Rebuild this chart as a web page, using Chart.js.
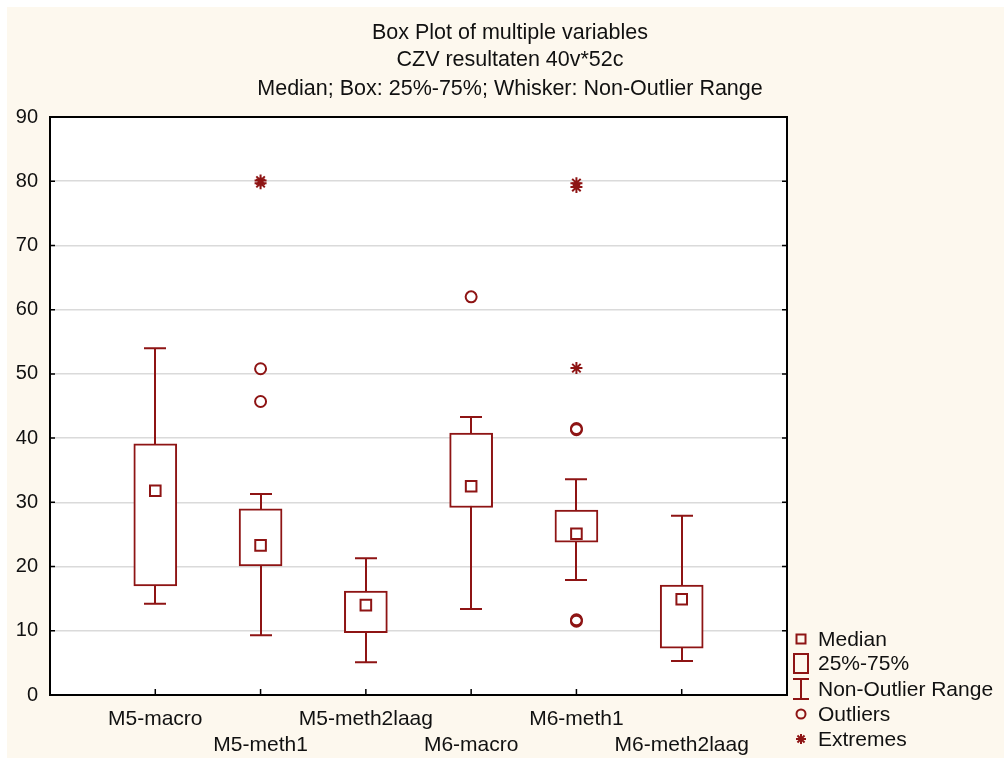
<!DOCTYPE html>
<html>
<head>
<meta charset="utf-8">
<script src="https://cdn.jsdelivr.net/npm/chart.js@4.4.1/dist/chart.umd.min.js"></script>
<style>
html,body{margin:0;padding:0;background:#ffffff;}
#wrap{position:absolute;left:0;top:0;width:1004px;height:758px;}
</style>
</head>
<body>
<div id="wrap"><canvas id="c" width="1004" height="758"></canvas></div>
<script>
const categories = ['M5-macro','M5-meth1','M5-meth2laag','M6-macro','M6-meth1','M6-meth2laag'];
const medians    = [31.8, 23.3, 14.0, 32.5, 25.1, 14.9];
const q1         = [17.0, 20.1, 9.7, 29.2, 23.8, 7.3];
const q3         = [39.1, 29.0, 16.2, 40.8, 28.8, 17.1];
const whiskerLow = [14.2, 9.3, 5.1, 13.4, 17.9, 5.3];
const whiskerHigh= [54.0, 31.3, 21.3, 43.3, 33.6, 27.9];
const outlierCats = ['M5-meth1','M5-meth1','M6-macro','M6-meth1','M6-meth1','M6-meth1','M6-meth1'];
const outlierVals = [50.8, 45.7, 62.0, 41.5, 41.3, 11.7, 11.5];
const extremeCats = ['M5-meth1','M5-meth1','M6-meth1','M6-meth1','M6-meth1'];
const extremeVals = [80.1, 79.7, 79.7, 79.1, 50.9];
const yTicks = [0,10,20,30,40,50,60,70,80,90];
const titleLines = ['Box Plot of multiple variables','CZV resultaten 40v*52c','Median; Box: 25%-75%; Whisker: Non-Outlier Range'];
const legendLabels = ['Median','25%-75%','Non-Outlier Range','Outliers','Extremes'];

// axis labels padded with an empty slot at each end (the plot leaves one category width free on both sides)
const axisLabels = [' ', ...categories, '  '];

const RED = '#8e1414';
const FONT = '"Liberation Sans", Arial, sans-serif';

const bgPlugin = {
  id: 'bg',
  beforeDraw(chart) {
    const ctx = chart.ctx, a = chart.chartArea;
    ctx.save();
    ctx.fillStyle = '#ffffff';
    ctx.fillRect(0, 0, chart.width, chart.height);
    ctx.fillStyle = '#fdf8ee';
    ctx.fillRect(7, 7, chart.width - 7, chart.height - 7);
    ctx.fillStyle = '#ffffff';
    ctx.fillRect(a.left, a.top, a.right - a.left, a.bottom - a.top);
    ctx.restore();
  }
};

const whiskerPlugin = {
  id: 'whiskers',
  beforeDatasetsDraw(chart) {
    const ctx = chart.ctx, xs = chart.scales.x, ys = chart.scales.y;
    ctx.save();
    ctx.strokeStyle = RED;
    ctx.lineWidth = 2;
    categories.forEach((c, i) => {
      const x = Math.round(xs.getPixelForValue(axisLabels.indexOf(c)));
      const yl = ys.getPixelForValue(whiskerLow[i]);
      const yh = ys.getPixelForValue(whiskerHigh[i]);
      ctx.beginPath();
      ctx.moveTo(x, yl); ctx.lineTo(x, yh);
      ctx.moveTo(x - 11, yl); ctx.lineTo(x + 11, yl);
      ctx.moveTo(x - 11, yh); ctx.lineTo(x + 11, yh);
      ctx.stroke();
    });
    ctx.restore();
  }
};

const framePlugin = {
  id: 'frame',
  afterDraw(chart) {
    const ctx = chart.ctx, a = chart.chartArea, xs = chart.scales.x, ys = chart.scales.y;
    ctx.save();
    ctx.strokeStyle = '#000';
    ctx.lineWidth = 2;
    ctx.strokeRect(a.left, a.top, a.right - a.left, a.bottom - a.top);
    ctx.beginPath();
    yTicks.forEach(v => {
      const y = ys.getPixelForValue(v);
      ctx.moveTo(a.left, y); ctx.lineTo(a.left + 5, y);
      ctx.moveTo(a.right, y); ctx.lineTo(a.right - 5, y);
    });
    categories.forEach(c => {
      const x = xs.getPixelForValue(axisLabels.indexOf(c));
      ctx.moveTo(x, a.bottom); ctx.lineTo(x, a.bottom - 6);
    });
    ctx.lineWidth = 1.5;
    ctx.stroke();

    // title
    ctx.fillStyle = '#111';
    ctx.font = '21.5px ' + FONT;
    ctx.textAlign = 'center';
    ctx.textBaseline = 'middle';
    const ty = [33, 60, 89];
    titleLines.forEach((t, i) => ctx.fillText(t, 510, ty[i]));

    // legend
    const lx = 801, ly = [639, 663, 689, 714, 739];
    ctx.textAlign = 'left';
    ctx.font = '21px ' + FONT;
    legendLabels.forEach((t, i) => ctx.fillText(t, 818, ly[i] + 1));
    ctx.strokeStyle = RED;
    ctx.lineWidth = 2;
    ctx.strokeRect(lx - 4.5, ly[0] - 4.5, 9, 9);
    ctx.strokeRect(lx - 7, ly[1] - 9, 14, 19);
    ctx.beginPath();
    ctx.moveTo(lx, ly[2] - 10); ctx.lineTo(lx, ly[2] + 10);
    ctx.moveTo(lx - 8, ly[2] - 10); ctx.lineTo(lx + 8, ly[2] - 10);
    ctx.moveTo(lx - 8, ly[2] + 10); ctx.lineTo(lx + 8, ly[2] + 10);
    ctx.stroke();
    ctx.beginPath();
    ctx.arc(lx, ly[3], 4.5, 0, Math.PI * 2);
    ctx.stroke();
    ctx.beginPath();
    const r = 5, d = r * Math.SQRT1_2;
    ctx.moveTo(lx, ly[4] - r); ctx.lineTo(lx, ly[4] + r);
    ctx.moveTo(lx - r, ly[4]); ctx.lineTo(lx + r, ly[4]);
    ctx.moveTo(lx - d, ly[4] - d); ctx.lineTo(lx + d, ly[4] + d);
    ctx.moveTo(lx - d, ly[4] + d); ctx.lineTo(lx + d, ly[4] - d);
    ctx.stroke();
    ctx.restore();
  }
};

new Chart(document.getElementById('c'), {
  type: 'bar',
  data: {
    labels: axisLabels,
    datasets: [
      {
        type: 'bar',
        label: '25%-75%',
        data: categories.map((c, i) => ({x: c, y: [q1[i], q3[i]]})),
        backgroundColor: '#ffffff',
        borderColor: RED,
        borderWidth: 2,
        borderSkipped: false,
        barThickness: 43,
        order: 3
      },
      {
        type: 'line',
        label: 'Median',
        data: categories.map((c, i) => ({x: c, y: medians[i]})),
        showLine: false,
        pointStyle: 'rect',
        pointRadius: 7.5,
        pointBackgroundColor: '#ffffff',
        pointBorderColor: RED,
        pointBorderWidth: 2,
        order: 1
      },
      {
        type: 'line',
        label: 'Outliers',
        data: outlierCats.map((c, i) => ({x: c, y: outlierVals[i]})),
        showLine: false,
        pointStyle: 'circle',
        pointRadius: 5.5,
        pointBackgroundColor: 'rgba(255,255,255,0)',
        pointBorderColor: RED,
        pointBorderWidth: 2,
        order: 1
      },
      {
        type: 'line',
        label: 'Extremes',
        data: extremeCats.map((c, i) => ({x: c, y: extremeVals[i]})),
        showLine: false,
        pointStyle: 'star',
        pointRadius: 6,
        pointBorderColor: RED,
        pointBorderWidth: 2,
        order: 1
      }
    ]
  },
  options: {
    responsive: false,
    animation: false,
    layout: { padding: { top: 117, right: 217, bottom: 0, left: 0 } },
    plugins: { legend: { display: false }, tooltip: { enabled: false }, title: { display: false } },
    scales: {
      x: {
        type: 'category',
        offset: false,
        grid: { display: false },
        border: { display: false },
        ticks: {
          color: '#111',
          font: { family: FONT, size: 21 },
          maxRotation: 0, autoSkip: false, padding: 4,
          callback: (v, i) => {
            const k = i - 1;
            if (k < 0 || k >= categories.length) return '';
            return k % 2 === 0 ? [categories[k], ''] : ['', categories[k]];
          }
        },
        afterFit: s => { s.height = 63; }
      },
      y: {
        min: 0, max: 90,
        afterBuildTicks: s => { s.ticks = yTicks.map(v => ({value: v})); },
        grid: { color: '#dadada', lineWidth: 1.5, drawTicks: false },
        border: { display: false },
        ticks: { color: '#111', font: { family: FONT, size: 20 }, padding: 12 },
        afterFit: s => { s.width = 50; }
      }
    }
  },
  plugins: [bgPlugin, whiskerPlugin, framePlugin]
});
</script>
</body>
</html>
